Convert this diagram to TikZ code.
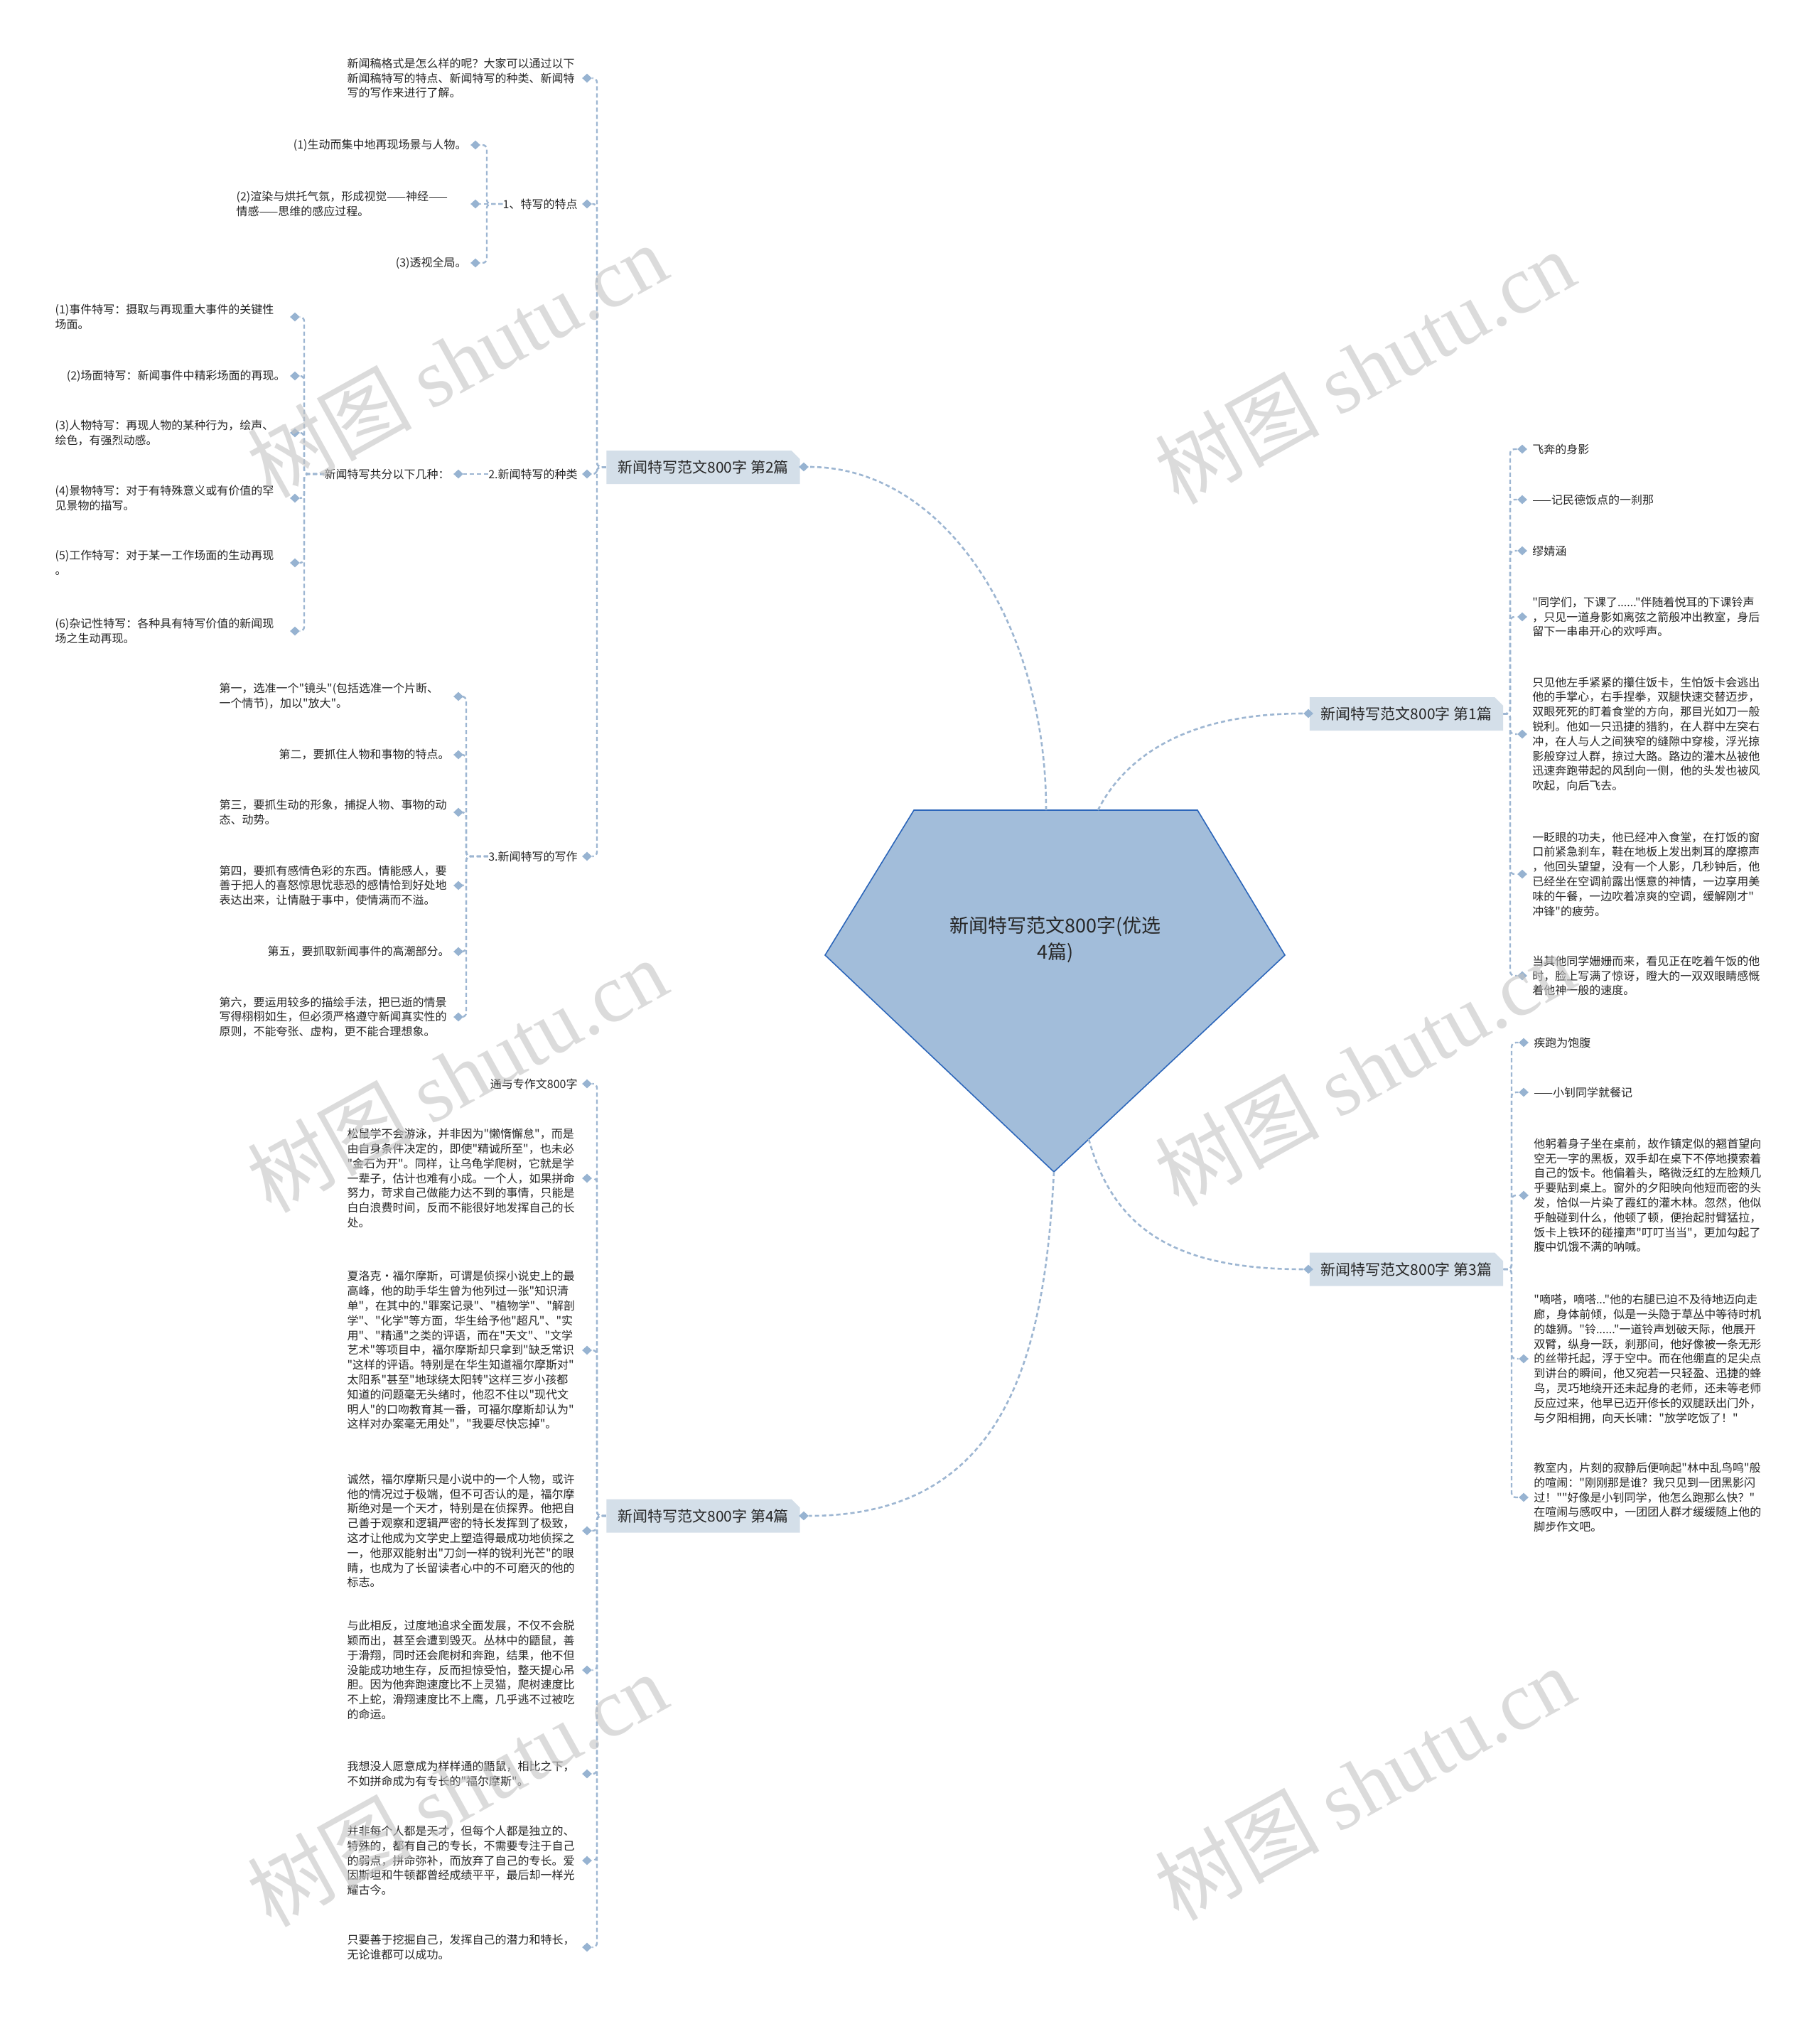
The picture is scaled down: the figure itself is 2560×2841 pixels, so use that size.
\documentclass[tikz,border=0pt]{standalone}
\usepackage{fontspec}
\setmainfont{Noto Sans CJK SC}[Ligatures=TeXOff]
\newfontfamily\wmlatin{Liberation Serif}
\usetikzlibrary{shapes.geometric,shapes.misc,calc}
\definecolor{ink}{HTML}{262626}
\definecolor{lnk}{HTML}{9DB6D2}
\definecolor{knotc}{HTML}{97B3D1}
\definecolor{boxfill}{HTML}{D4DFE9}
\definecolor{rootfill}{HTML}{A2BDDA}
\definecolor{rootline}{HTML}{2C66BA}
\definecolor{wm}{HTML}{C4C4C4}
\newcommand{\leaffont}{\fontsize{8pt}{10.4pt}\selectfont}
\tikzset{
  leafl/.style  = {anchor=east, align=left, inner sep=0pt, text=ink, font=\leaffont},
  leafr/.style  = {anchor=west, align=left, inner sep=0pt, text=ink, font=\leaffont},
  parl/.style   = {leafl, text width=162pt},
  parr/.style   = {leafr, text width=162pt},
  dmd/.style    = {diamond, fill=knotc, inner sep=0pt, minimum width=7pt, minimum height=6.5pt},
  branch/.style = {chamfered rectangle, chamfered rectangle corners=north east,
                   chamfered rectangle xsep=3pt, chamfered rectangle ysep=3pt,
                   fill=boxfill, minimum width=132.5pt, minimum height=23.5pt,
                   inner xsep=5pt, text=ink, font=\fontsize{10.5pt}{12pt}\selectfont},
  roottxt/.style = {align=center, text=ink, font=\fontsize{13.5pt}{18.5pt}\selectfont},
  conn/.style   = {draw=lnk, line width=1.2pt, dash pattern=on 3pt off 2pt, rounded corners=3pt},
  curve/.style  = {draw=lnk, line width=1.3pt, dash pattern=on 3pt off 2pt},
  wmark/.style  = {text=wm, opacity=0.6, rotate=29, inner sep=0pt},
}

\begin{document}
\begin{tikzpicture}[x=0.5pt, y=-0.5pt]
  \fill[white] (0,0) rectangle (2560,2841);
  \useasboundingbox (0,0) rectangle (2560,2841);

  % root
  \fill[rootfill, draw=rootline, line width=0.8pt]
    (1286,1140) -- (1685,1140) -- (1808,1344) -- (1483,1649) -- (1161,1344) -- cycle;
  \node[roottxt] (root) at (1485,1322) {新闻特写范文800字(优选\\4篇)};
  \coordinate (r2) at (1472,1140);
  \coordinate (r1) at (1545,1140);
  \coordinate (r3) at (1532,1603);
  \coordinate (r4) at (1483,1649);

  % branches
  \node[branch] (pa2) at (989.5,657.5) {新闻特写范文800字 第2篇};
  \node[dmd] (kpa2) at (1131,657) {};
  \node[branch] (pa1) at (1979,1004.5) {新闻特写范文800字 第1篇};
  \node[dmd] (kpa1) at (1841,1004) {};
  \node[branch] (pa3) at (1979,1786) {新闻特写范文800字 第3篇};
  \node[dmd] (kpa3) at (1841,1786) {};
  \node[branch] (pa4) at (989.5,2133) {新闻特写范文800字 第4篇};
  \node[dmd] (kpa4) at (1131,2133) {};

  \draw[curve] (r2) .. controls (1472,880) and (1330,657) .. (kpa2);
  \draw[curve] (r1) .. controls (1575,1080) and (1650,1004) .. (kpa1);
  \draw[curve] (r3) .. controls (1565,1720) and (1640,1786) .. (kpa3);
  \draw[curve] (r4) .. controls (1470,1900) and (1420,2133) .. (kpa4);

  % 第2篇
  \coordinate (j2) at (840,657);
  \node[parl] (b0) at (813,110) {新闻稿格式是怎么样的呢？大家可以通过以下\\新闻稿特写的特点、新闻特写的种类、新闻特\\写的写作来进行了解。};
  \node[dmd] (kb0) at (826,110) {};
  \node[leafl] (b1) at (813,287) {1、特写的特点};
  \node[dmd] (kb1) at (826,287) {};
  \node[leafl] (b2) at (813,667) {2.新闻特写的种类};
  \node[dmd] (kb2) at (826,667) {};
  \node[leafl] (b3) at (813,1205) {3.新闻特写的写作};
  \node[dmd] (kb3) at (826,1205) {};
  \foreach \k in {kb0,kb1,kb2,kb3} \draw[conn] (pa2.west) -- (j2) |- (\k);

  \coordinate (j21) at (685,287);
  \node[leafl] (b11) at (657,204) {(1)生动而集中地再现场景与人物。};
  \node[dmd] (kb11) at (669,204) {};
  \node[parl] (b12) at (657,287) {(2)渲染与烘托气氛，形成视觉——神经——\\情感——思维的感应过程。};
  \node[dmd] (kb12) at (669,287) {};
  \node[leafl] (b13) at (657,370) {(3)透视全局。};
  \node[dmd] (kb13) at (669,370) {};
  \foreach \k in {kb11,kb13} \draw[conn] (b1.west) -- (j21) |- (\k);
  \draw[conn] (b1.west) -- (kb12);

  \node[leafl] (b21) at (633,667) {新闻特写共分以下几种：};
  \node[dmd] (kb21) at (645,667) {};
  \draw[conn] (b2.west) -- (kb21);
  \coordinate (j22) at (428,667);
  \node[parl] (c1) at (402,446) {(1)事件特写：摄取与再现重大事件的关键性\\场面。};
  \node[dmd] (kc1) at (415,446) {};
  \node[leafl] (c2) at (402,529) {(2)场面特写：新闻事件中精彩场面的再现。};
  \node[dmd] (kc2) at (415,529) {};
  \node[parl] (c3) at (402,609) {(3)人物特写：再现人物的某种行为，绘声、\\绘色，有强烈动感。};
  \node[dmd] (kc3) at (415,609) {};
  \node[parl] (c4) at (402,701) {(4)景物特写：对于有特殊意义或有价值的罕\\见景物的描写。};
  \node[dmd] (kc4) at (415,701) {};
  \node[parl] (c5) at (402,792) {(5)工作特写：对于某一工作场面的生动再现\\。};
  \node[dmd] (kc5) at (415,792) {};
  \node[parl] (c6) at (402,888) {(6)杂记性特写：各种具有特写价值的新闻现\\场之生动再现。};
  \node[dmd] (kc6) at (415,888) {};
  \foreach \k in {kc1,kc2,kc3,kc4,kc5,kc6} \draw[conn] (b21.west) -- (j22) |- (\k);

  \coordinate (j23) at (656,1205);
  \node[parl] (g1) at (633,980) {第一，选准一个"镜头"(包括选准一个片断、\\一个情节)，加以"放大"。};
  \node[dmd] (kg1) at (645,980) {};
  \node[leafl] (g2) at (633,1062) {第二，要抓住人物和事物的特点。};
  \node[dmd] (kg2) at (645,1062) {};
  \node[parl] (g3) at (633,1143) {第三，要抓生动的形象，捕捉人物、事物的动\\态、动势。};
  \node[dmd] (kg3) at (645,1143) {};
  \node[parl] (g4) at (633,1246) {第四，要抓有感情色彩的东西。情能感人，要\\善于把人的喜怒惊思忧悲恐的感情恰到好处地\\表达出来，让情融于事中，使情满而不溢。};
  \node[dmd] (kg4) at (645,1246) {};
  \node[leafl] (g5) at (633,1339) {第五，要抓取新闻事件的高潮部分。};
  \node[dmd] (kg5) at (645,1339) {};
  \node[parl] (g6) at (633,1431) {第六，要运用较多的描绘手法，把已逝的情景\\写得栩栩如生，但必须严格遵守新闻真实性的\\原则，不能夸张、虚构，更不能合理想象。};
  \node[dmd] (kg6) at (645,1431) {};
  \foreach \k in {kg1,kg2,kg3,kg4,kg5,kg6} \draw[conn] (b3.west) -- (j23) |- (\k);

  % 第4篇
  \coordinate (j4) at (840,2133);
  \node[leafl] (d1) at (813,1525) {通与专作文800字};
  \node[dmd] (kd1) at (826,1525) {};
  \node[parl] (d2) at (813,1658) {松鼠学不会游泳，并非因为"懒惰懈怠"，而是\\由自身条件决定的，即使"精诚所至"，也未必\\"金石为开"。同样，让乌龟学爬树，它就是学\\一辈子，估计也难有小成。一个人，如果拼命\\努力，苛求自己做能力达不到的事情，只能是\\白白浪费时间，反而不能很好地发挥自己的长\\处。};
  \node[dmd] (kd2) at (826,1658) {};
  \node[parl] (d3) at (813,1900) {夏洛克·福尔摩斯，可谓是侦探小说史上的最\\高峰，他的助手华生曾为他列过一张"知识清\\单"，在其中的."罪案记录"、"植物学"、"解剖\\学"、"化学"等方面，华生给予他"超凡"、"实\\用"、"精通"之类的评语，而在"天文"、"文学\\艺术"等项目中，福尔摩斯却只拿到"缺乏常识\\"这样的评语。特别是在华生知道福尔摩斯对"\\太阳系"甚至"地球绕太阳转"这样三岁小孩都\\知道的问题毫无头绪时，他忍不住以"现代文\\明人"的口吻教育其一番，可福尔摩斯却认为"\\这样对办案毫无用处"，"我要尽快忘掉"。};
  \node[dmd] (kd3) at (826,1900) {};
  \node[parl] (d4) at (813,2154) {诚然，福尔摩斯只是小说中的一个人物，或许\\他的情况过于极端，但不可否认的是，福尔摩\\斯绝对是一个天才，特别是在侦探界。他把自\\己善于观察和逻辑严密的特长发挥到了极致，\\这才让他成为文学史上塑造得最成功地侦探之\\一，他那双能射出"刀剑一样的锐利光芒"的眼\\睛，也成为了长留读者心中的不可磨灭的他的\\标志。};
  \node[dmd] (kd4) at (826,2154) {};
  \node[parl] (d5) at (813,2350) {与此相反，过度地追求全面发展，不仅不会脱\\颖而出，甚至会遭到毁灭。丛林中的鼯鼠，善\\于滑翔，同时还会爬树和奔跑，结果，他不但\\没能成功地生存，反而担惊受怕，整天提心吊\\胆。因为他奔跑速度比不上灵猫，爬树速度比\\不上蛇，滑翔速度比不上鹰，几乎逃不过被吃\\的命运。};
  \node[dmd] (kd5) at (826,2350) {};
  \node[parl] (d6) at (813,2496) {我想没人愿意成为样样通的鼯鼠，相比之下，\\不如拼命成为有专长的"福尔摩斯"。};
  \node[dmd] (kd6) at (826,2496) {};
  \node[parl] (d7) at (813,2618) {并非每个人都是天才，但每个人都是独立的、\\特殊的，都有自己的专长，不需要专注于自己\\的弱点，拼命弥补，而放弃了自己的专长。爱\\因斯坦和牛顿都曾经成绩平平，最后却一样光\\耀古今。};
  \node[dmd] (kd7) at (826,2618) {};
  \node[parl] (d8) at (813,2740) {只要善于挖掘自己，发挥自己的潜力和特长，\\无论谁都可以成功。};
  \node[dmd] (kd8) at (826,2740) {};
  \foreach \k in {kd1,kd2,kd3,kd4,kd5,kd6,kd7,kd8} \draw[conn] (pa4.west) -- (j4) |- (\k);

  % 第1篇
  \coordinate (j1) at (2125,1004);
  \node[leafr] (e1) at (2156,632) {飞奔的身影};
  \node[dmd] (ke1) at (2142,632) {};
  \node[leafr] (e2) at (2156,703) {——记民德饭点的一刹那};
  \node[dmd] (ke2) at (2142,703) {};
  \node[leafr] (e3) at (2156,775) {缪婧涵};
  \node[dmd] (ke3) at (2142,775) {};
  \node[parr] (e4) at (2156,868) {"同学们，下课了......"伴随着悦耳的下课铃声\\，只见一道身影如离弦之箭般冲出教室，身后\\留下一串串开心的欢呼声。};
  \node[dmd] (ke4) at (2142,868) {};
  \node[parr] (e5) at (2156,1033) {只见他左手紧紧的攥住饭卡，生怕饭卡会逃出\\他的手掌心，右手捏拳，双腿快速交替迈步，\\双眼死死的盯着食堂的方向，那目光如刀一般\\锐利。他如一只迅捷的猎豹，在人群中左突右\\冲，在人与人之间狭窄的缝隙中穿梭，浮光掠\\影般穿过人群，掠过大路。路边的灌木丛被他\\迅速奔跑带起的风刮向一侧，他的头发也被风\\吹起，向后飞去。};
  \node[dmd] (ke5) at (2142,1033) {};
  \node[parr] (e6) at (2156,1230) {一眨眼的功夫，他已经冲入食堂，在打饭的窗\\口前紧急刹车，鞋在地板上发出刺耳的摩擦声\\，他回头望望，没有一个人影，几秒钟后，他\\已经坐在空调前露出惬意的神情，一边享用美\\味的午餐，一边吹着凉爽的空调，缓解刚才"\\冲锋"的疲劳。};
  \node[dmd] (ke6) at (2142,1230) {};
  \node[parr] (e7) at (2156,1373) {当其他同学姗姗而来，看见正在吃着午饭的他\\时，脸上写满了惊讶，瞪大的一双双眼睛感慨\\着他神一般的速度。};
  \node[dmd] (ke7) at (2142,1373) {};
  \foreach \k in {ke1,ke2,ke3,ke4,ke5,ke6,ke7} \draw[conn] (pa1.east) -- (j1) |- (\k);

  % 第3篇
  \coordinate (j3) at (2127,1786);
  \node[leafr] (f1) at (2158,1467) {疾跑为饱腹};
  \node[dmd] (kf1) at (2144,1467) {};
  \node[leafr] (f2) at (2158,1537) {——小钊同学就餐记};
  \node[dmd] (kf2) at (2144,1537) {};
  \node[parr] (f3) at (2158,1682) {他躬着身子坐在桌前，故作镇定似的翘首望向\\空无一字的黑板，双手却在桌下不停地摸索着\\自己的饭卡。他偏着头，略微泛红的左脸颊几\\乎要贴到桌上。窗外的夕阳映向他短而密的头\\发，恰似一片染了霞红的灌木林。忽然，他似\\乎触碰到什么，他顿了顿，便抬起肘臂猛拉，\\饭卡上铁环的碰撞声"叮叮当当"，更加勾起了\\腹中饥饿不满的呐喊。};
  \node[dmd] (kf3) at (2144,1682) {};
  \node[parr] (f4) at (2158,1912) {"嘀嗒，嘀嗒..."他的右腿已迫不及待地迈向走\\廊，身体前倾，似是一头隐于草丛中等待时机\\的雄狮。"铃......"一道铃声划破天际，他展开\\双臂，纵身一跃，刹那间，他好像被一条无形\\的丝带托起，浮于空中。而在他绷直的足尖点\\到讲台的瞬间，他又宛若一只轻盈、迅捷的蜂\\鸟，灵巧地绕开还未起身的老师，还未等老师\\反应过来，他早已迈开修长的双腿跃出门外，\\与夕阳相拥，向天长啸："放学吃饭了！"};
  \node[dmd] (kf4) at (2144,1912) {};
  \node[parr] (f5) at (2158,2107) {教室内，片刻的寂静后便响起"林中乱鸟鸣"般\\的喧闹："刚刚那是谁？我只见到一团黑影闪\\过！""好像是小钊同学，他怎么跑那么快？"\\在喧闹与感叹中，一团团人群才缓缓随上他的\\脚步作文吧。};
  \node[dmd] (kf5) at (2144,2107) {};
  \foreach \k in {kf1,kf2,kf3,kf4,kf5} \draw[conn] (pa3.east) -- (j3) |- (\k);

  % watermarks
  \foreach \p/\q [count=\i] in {643/507, 1920/516, 643/1513, 1920/1504, 643/2518, 1920/2509}
    \node[wmark] (w\i) at (\p,\q) {\fontsize{58pt}{58pt}\selectfont 树图 \wmlatin shutu.cn};
\end{tikzpicture}
\end{document}
